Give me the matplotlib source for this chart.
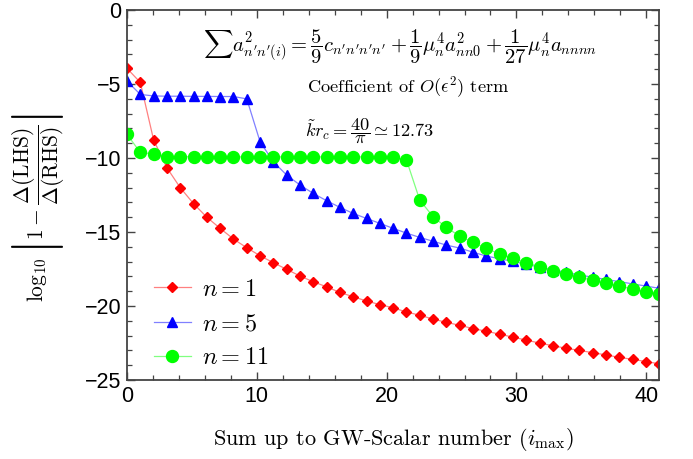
import numpy as np
import matplotlib.pyplot as plt
from matplotlib.ticker import MultipleLocator

plt.rcParams['mathtext.fontset'] = 'cm'
plt.rcParams['font.family'] = ['Liberation Sans', 'DejaVu Sans']

# 41 points, spread over the range 0..41
i_max = np.linspace(0, 41, 41)

n1 = [-3.94, -4.89, -8.78, -10.66, -12.0, -13.08, -14.0, -14.75, -15.47, -16.06,
      -16.6, -17.07, -17.52, -17.97, -18.36, -18.7, -19.08, -19.37, -19.66, -19.9,
      -20.12, -20.4, -20.62, -20.88, -21.1, -21.3, -21.52, -21.7, -21.9, -22.1,
      -22.3, -22.5, -22.68, -22.85, -23.0, -23.15, -23.3, -23.47, -23.6, -23.75,
      -23.9]
n5 = [-4.8, -5.7, -5.8, -5.82, -5.82, -5.83, -5.83, -5.84, -5.84, -6.0,
      -8.9, -10.25, -11.15, -11.82, -12.39, -12.88, -13.33, -13.74, -14.08, -14.41,
      -14.75, -15.07, -15.36, -15.62, -15.88, -16.08, -16.36, -16.62, -16.8, -16.98,
      -17.18, -17.36, -17.55, -17.73, -17.9, -18.05, -18.2, -18.35, -18.5, -18.65,
      -18.8]
n11 = [-8.4, -9.62, -9.72, -9.9, -9.91, -9.91, -9.91, -9.91, -9.92, -9.92,
       -9.92, -9.92, -9.92, -9.92, -9.92, -9.92, -9.92, -9.92, -9.92, -9.93,
       -9.95, -10.12, -12.84, -13.96, -14.69, -15.27, -15.7, -16.1, -16.48, -16.78,
       -17.07, -17.34, -17.6, -17.84, -18.06, -18.25, -18.47, -18.65, -18.85, -19.03,
       -19.2]

fig = plt.figure(figsize=(6.93, 4.59), dpi=100)
ax = fig.add_axes([0.1833, 0.172, 0.768, 0.806])

ax.plot(i_max, n1, color='#ff8080', lw=0.9, marker='D', ms=5.2,
        mfc='#ff0000', mec='#ff0000', label=r'$n=1$')
ax.plot(i_max, n5, color='#8080ff', lw=0.9, marker='^', ms=7.4,
        mfc='#0000ff', mec='#0000ff', label=r'$n=5$')
ax.plot(i_max, n11, color='#80ff80', lw=0.9, marker='o', ms=8.6,
        mfc='#00ff00', mec='#00ff00', label=r'$n=11$')

ax.set_xlim(0, 41)
ax.set_ylim(-25, 0)
ax.xaxis.set_major_locator(MultipleLocator(10))
ax.xaxis.set_minor_locator(MultipleLocator(2))
ax.yaxis.set_major_locator(MultipleLocator(5))
ax.yaxis.set_minor_locator(MultipleLocator(1))
ax.tick_params(which='both', direction='in', top=True, right=True,
               color='#444444', labelsize=15.5, pad=4)
ax.tick_params(which='major', length=6, width=1)
ax.tick_params(which='minor', length=3.5, width=0.9)
for s in ax.spines.values():
    s.set_color('#444444')
    s.set_linewidth(1.3)

ax.set_xlabel(r'Sum up to GW-Scalar number ($i_{\max}$)', family='cmr10',
              fontsize=16, labelpad=14)
ax.set_ylabel(r'$\log_{10}\left|1-\dfrac{\Delta(\mathrm{LHS})}{\Delta(\mathrm{RHS})}\right|$',
              fontsize=15.5)
ax.yaxis.set_label_coords(-0.113, 0.465)

ax.text(0.143, 0.9,
        r"$\sum a^2_{n'n'(i)}=\dfrac{5}{9}c_{n'n'n'n'}+\dfrac{1}{9}\mu_n^4a^2_{nn0}"
        r"+\dfrac{1}{27}\mu_n^4a_{nnnn}$",
        transform=ax.transAxes, fontsize=14.8, va='center', ha='left')
ax.text(0.338, 0.79, r'Coefficient of $O(\epsilon^2)$ term', family='cmr10',
        transform=ax.transAxes, fontsize=13.2, va='center', ha='left')
ax.text(0.335, 0.672, r'$\tilde{k}r_c=\dfrac{40}{\pi}\simeq 12.73$',
        transform=ax.transAxes, fontsize=13.2, va='center', ha='left')

ax.legend(loc='lower left', bbox_to_anchor=(0.01, -0.03), frameon=False,
          fontsize=17.5, handlelength=1.5, numpoints=1, labelspacing=0.5,
          handletextpad=0.45)

fig.savefig('out.png', dpi=100)
